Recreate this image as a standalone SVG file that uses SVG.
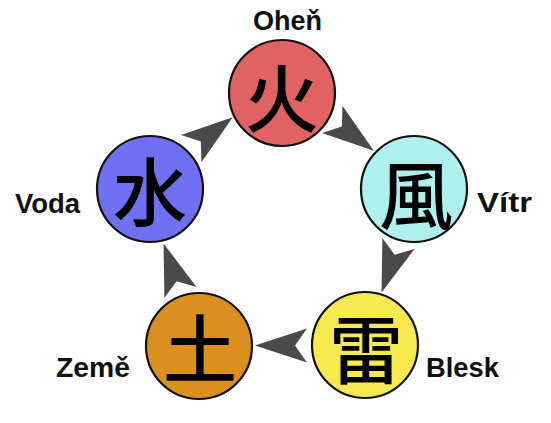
<svg xmlns="http://www.w3.org/2000/svg" width="551" height="423" viewBox="0 0 551 423">
<style>
.node{stroke:#111;stroke-width:2.2}
.kanji{font-family:"Noto Sans CJK JP","Noto Sans CJK SC",sans-serif;font-weight:500;font-size:74px;fill:#000;text-anchor:middle;dominant-baseline:central}
.label{font-family:"Liberation Sans",Arial,sans-serif;font-weight:bold;font-size:28px;fill:#111}
.arrow{fill:#4a4a4a}
</style>
<defs>
<path id="ah" d="M26,0 L-26,-17 L-14,0 L-26,17 Z"/>
</defs>
<rect width="551" height="423" fill="#fff"/>
<g id="connectors" class="arrow">
<use href="#ah" transform="translate(212,133) rotate(-37)"/>
<use href="#ah" transform="translate(353,135) rotate(37)"/>
<use href="#ah" transform="translate(390,268) rotate(109)"/>
<use href="#ah" transform="translate(281,345.5) rotate(180)"/>
<use href="#ah" transform="translate(172,268) rotate(-109)"/>
</g>
<g id="fire">
<circle class="node" cx="282" cy="93" r="53" fill="#e06262"/>
<text class="kanji" x="282" y="93">火</text>
<text class="label" x="253" y="30" textLength="69" lengthAdjust="spacingAndGlyphs">Oheň</text>
</g>
<g id="wind">
<circle class="node" cx="414" cy="189" r="53" fill="#aef0ee"/>
<text class="kanji" x="416" y="190">風</text>
<text class="label" x="477" y="212" textLength="55" lengthAdjust="spacingAndGlyphs">Vítr</text>
</g>
<g id="thunder">
<circle class="node" cx="365" cy="345" r="53" fill="#f7e950"/>
<text class="kanji" x="366" y="345">雷</text>
<text class="label" x="426" y="377" textLength="73" lengthAdjust="spacingAndGlyphs">Blesk</text>
</g>
<g id="earth">
<circle class="node" cx="199" cy="346" r="53" fill="#d9901e"/>
<text class="kanji" x="200" y="344">土</text>
<text class="label" x="56" y="377" textLength="74" lengthAdjust="spacingAndGlyphs">Země</text>
</g>
<g id="water">
<circle class="node" cx="150" cy="189" r="53" fill="#7070f2"/>
<text class="kanji" x="150" y="187">水</text>
<text class="label" x="15" y="213" textLength="65" lengthAdjust="spacingAndGlyphs">Voda</text>
</g>
</svg>
